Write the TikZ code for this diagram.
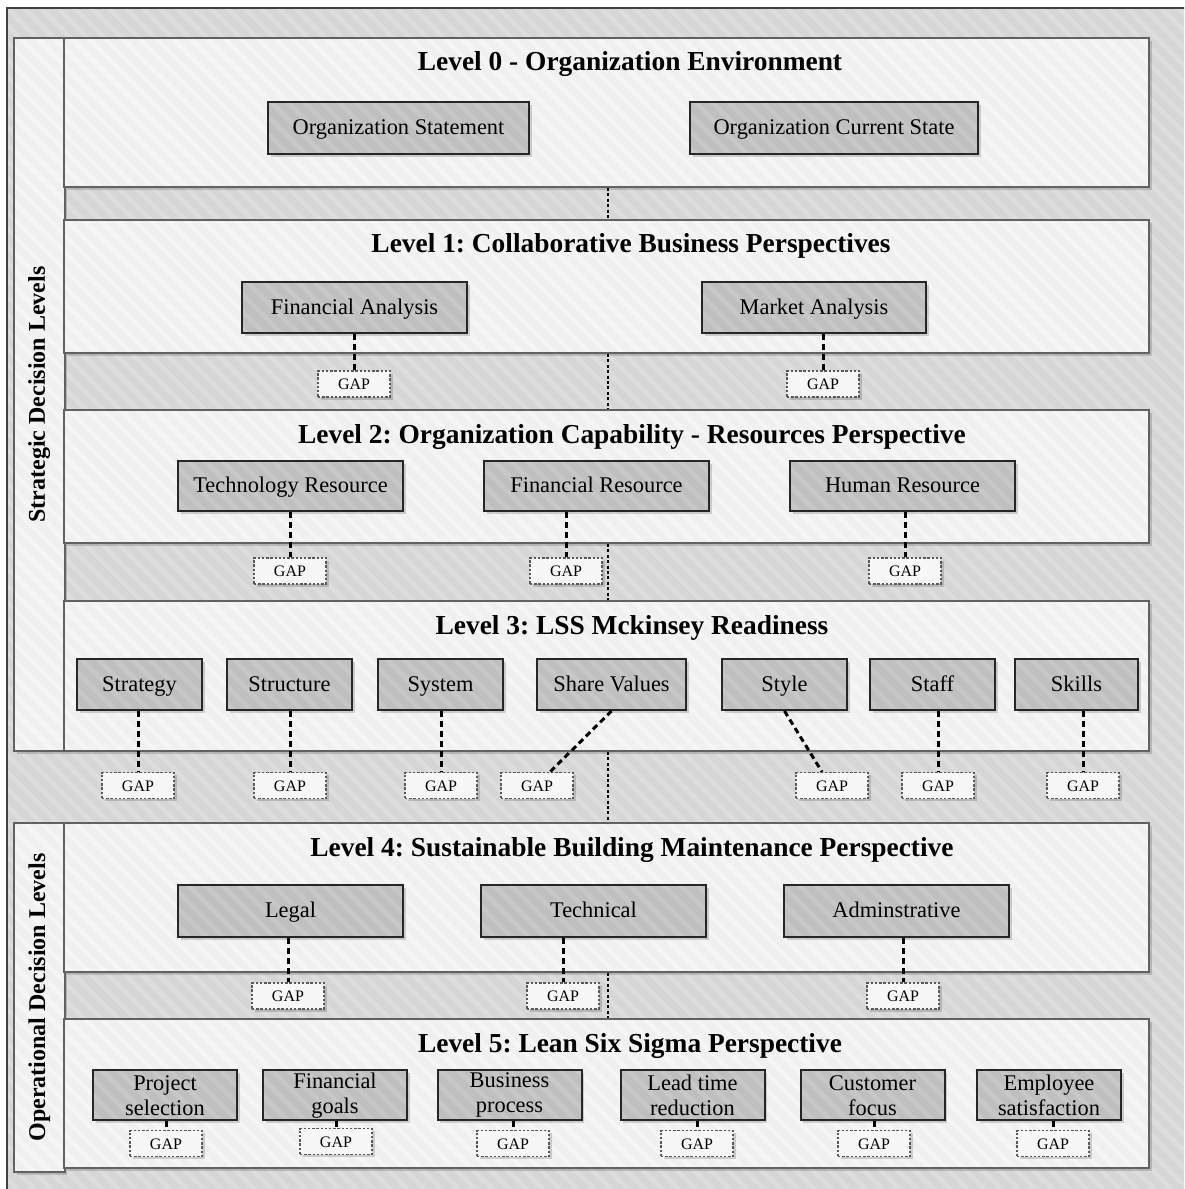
\documentclass[tikz,border=0pt]{standalone}
\usepackage{fontspec}
\setmainfont{Liberation Serif}
\usetikzlibrary{shadows,patterns.meta,calc}
\frenchspacing

\begin{document}
\begin{tikzpicture}[x=0.5pt,y=-0.5pt,
  sz/.style 2 args={minimum width=#1*0.5pt, minimum height=#2*0.5pt},
  softshadow/.style={drop shadow={shadow xshift=1.3pt, shadow yshift=-1.3pt, opacity=0.16, fill=black}},
  stripes/.style={preaction={pattern={Lines[angle=-45,distance=6pt,line width=2.4pt]}, pattern color=#1}},
  frame/.style={preaction={fill=black!16}, stripes=black!13.5, draw=black!75, line width=0.9pt},
  panel/.style={rectangle, inner sep=0pt, softshadow, preaction={fill=black!6}, stripes=black!4, draw=black!62, line width=1pt},
  itembase/.style={rectangle, inner sep=0pt, softshadow, preaction={fill=black!25}, stripes=black!22, draw=black!85, line width=1pt, align=center, font=\fontsize{11.2}{12.5}\selectfont},
  item/.style={itembase, text height=1.75ex, text depth=0.3ex},
  item2/.style={itembase, yshift=-1.2pt},
  gapbox/.style={rectangle, inner sep=0pt, sz={72}{26}, softshadow, fill=black!3, draw=black!65, line width=0.6pt, dash pattern=on 1.2pt off 0.9pt, text height=1.5ex, text depth=0.2ex, font=\fontsize{8}{9}\selectfont},
  title/.style={font=\bfseries\fontsize{13.7}{16}\selectfont},
  side/.style={font=\bfseries\fontsize{12}{14}\selectfont, rotate=90},
  link/.style={line width=1.5pt, dash pattern=on 3pt off 2pt},
  spine/.style={line width=0.9pt, dash pattern=on 1.5pt off 1.2pt},
]
\useasboundingbox (0,0) rectangle (1184,1189);
\fill[white] (0,0) rectangle (1184,1189);
\clip (0,0) rectangle (1184,1189);

% background frame
\draw[frame] (7,8) rectangle (1260,1260);

% side columns
\node[panel, sz={50.5}{713}] (sd) at (39.25,394.5) {};
\node[panel, sz={50.5}{349}] (od) at (39.25,997.5) {};
\node[side] (sdl) at (sd.center) {Strategic Decision Levels};
\node[side] (odl) at (od.center) {Operational Decision Levels};

% level panels
\node[panel, sz={1085}{149}] (L0) at (606.5,112.5) {};
\node[panel, sz={1085}{133}] (L1) at (606.5,286.5) {};
\node[panel, sz={1085}{133}] (L2) at (606.5,476.5) {};
\node[panel, sz={1085}{150}] (L3) at (606.5,676) {};
\node[panel, sz={1085}{149}] (L4) at (606.5,897.5) {};
\node[panel, sz={1085}{149}] (L5) at (606.5,1093.5) {};

% spine between levels
\coordinate (mid) at (608,0);
\draw[spine] (L0.south -| mid) -- (L1.north -| mid);
\draw[spine] (L1.south -| mid) -- (L2.north -| mid);
\draw[spine] (L2.south -| mid) -- (L3.north -| mid);
\draw[spine] (L3.south -| mid) -- (L4.north -| mid);
\draw[spine] (L4.south -| mid) -- (L5.north -| mid);

% titles
\node[title] (t0) at (630,64) {Level 0 - Organization Environment};
\node[title] (t1) at (631,246) {Level 1: Collaborative Business Perspectives};
\node[title] (t2) at (632,437) {Level 2: Organization Capability - Resources Perspective};
\node[title] (t3) at (632,628) {Level 3: LSS Mckinsey Readiness};
\node[title] (t4) at (632,850) {Level 4: Sustainable Building Maintenance Perspective};
\node[title] (t5) at (630,1046) {Level 5: Lean Six Sigma Perspective};

% level 0
\node[item, sz={261}{52}] (os) at (398.5,128) {Organization Statement};
\node[item, sz={288}{52}] (ocs) at (834,128) {Organization Current State};

% level 1
\node[item, sz={225}{51}] (fa) at (354.5,307.5) {Financial Analysis};
\node[item, sz={224}{51}] (ma) at (814,307.5) {Market Analysis};
\node[gapbox] (gfa) at (354,384) {GAP};
\node[gapbox] (gma) at (823,384) {GAP};
\draw[link] (fa.south -| gfa.north) -- (gfa.north);
\draw[link] (ma.south -| gma.north) -- (gma.north);

% level 2
\node[item, sz={225}{50}] (tr) at (290.5,486) {Technology Resource};
\node[item, sz={225}{50}] (fr) at (596.5,486) {Financial Resource};
\node[item, sz={225}{50}] (hr) at (902.5,486) {Human Resource};
\node[gapbox] (gtr) at (290,571) {GAP};
\node[gapbox] (gfr) at (566,571) {GAP};
\node[gapbox] (ghr) at (905,571) {GAP};
\draw[link] (tr.south -| gtr.north) -- (gtr.north);
\draw[link] (fr.south -| gfr.north) -- (gfr.north);
\draw[link] (hr.south -| ghr.north) -- (ghr.north);

% level 3
\node[item, sz={125}{51}] (stg) at (139.5,684.5) {Strategy};
\node[item, sz={125}{51}] (str) at (289.5,684.5) {Structure};
\node[item, sz={125}{51}] (sys) at (440.5,684.5) {System};
\node[item, sz={149}{51}] (sv) at (611.5,684.5) {Share Values};
\node[item, sz={125}{51}] (sty) at (784.5,684.5) {Style};
\node[item, sz={125}{51}] (stf) at (932.5,684.5) {Staff};
\node[item, sz={123}{51}] (skl) at (1076.5,684.5) {Skills};
\node[gapbox] (gstg) at (138,785.5) {GAP};
\node[gapbox] (gstr) at (290,785.5) {GAP};
\node[gapbox] (gsys) at (441,785.5) {GAP};
\node[gapbox] (gsv) at (537,785.5) {GAP};
\node[gapbox] (gsty) at (832,785.5) {GAP};
\node[gapbox] (gstf) at (938,785.5) {GAP};
\node[gapbox] (gskl) at (1083,785.5) {GAP};
\draw[link] (stg.south -| gstg.north) -- (gstg.north);
\draw[link] (str.south -| gstr.north) -- (gstr.north);
\draw[link] (sys.south -| gsys.north) -- (gsys.north);
\draw[link] (sv.south) -- ([xshift=6.5pt]gsv.north);
\draw[link] (sty.south) -- ([xshift=-5pt]gsty.north);
\draw[link] (stf.south -| gstf.north) -- (gstf.north);
\draw[link] (skl.south -| gskl.north) -- (gskl.north);

% level 4
\node[item, sz={225}{52}] (lg) at (290.5,911) {Legal};
\node[item, sz={225}{52}] (tc) at (593.5,911) {Technical};
\node[item, sz={225}{52}] (ad) at (896.5,911) {Adminstrative};
\node[gapbox] (glg) at (288,996) {GAP};
\node[gapbox] (gtc) at (563,996) {GAP};
\node[gapbox] (gad) at (903,996) {GAP};
\draw[link] (lg.south -| glg.north) -- (glg.north);
\draw[link] (tc.south -| gtc.north) -- (gtc.north);
\draw[link] (ad.south -| gad.north) -- (gad.north);

% level 5
\node[item2, sz={144}{50}] (ps) at (165,1093) {Project\\selection};
\node[item2, sz={144}{50}] (fg) at (335,1093) {Financial\\goals};
\node[item2, sz={144}{50}] (bp) at (509.5,1093) {Business\\process};
\node[item2, sz={144}{50}] (lt) at (692.5,1093) {Lead time\\reduction};
\node[item2, sz={144}{50}] (cf) at (872.5,1093) {Customer\\focus};
\node[item2, sz={144}{50}] (es) at (1049,1093) {Employee\\satisfaction};
\node[gapbox] (gps) at (166,1143.5) {GAP};
\node[gapbox] (gfg) at (336,1141.5) {GAP};
\node[gapbox] (gbp) at (513,1143.5) {GAP};
\node[gapbox] (glt) at (697,1143.5) {GAP};
\node[gapbox] (gcf) at (874,1143.5) {GAP};
\node[gapbox] (ges) at (1053,1143.5) {GAP};
\draw[link] (ps.south -| gps.north) -- (gps.north);
\draw[link] (fg.south -| gfg.north) -- (gfg.north);
\draw[link] (bp.south -| gbp.north) -- (gbp.north);
\draw[link] (lt.south -| glt.north) -- (glt.north);
\draw[link] (cf.south -| gcf.north) -- (gcf.north);
\draw[link] (es.south -| ges.north) -- (ges.north);
\end{tikzpicture}
\end{document}
